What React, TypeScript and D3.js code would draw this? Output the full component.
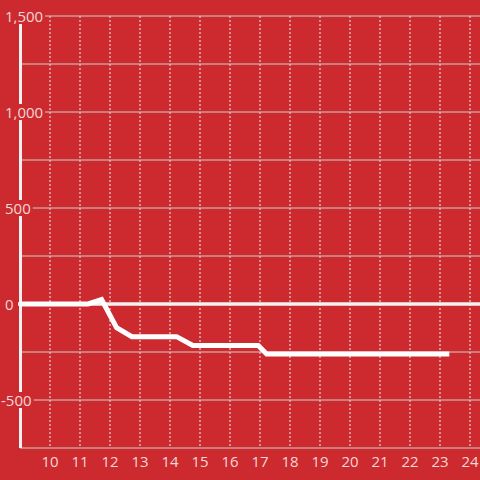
import React from "react";
import * as d3 from "d3";

const seriesX = [9.0, 11.27, 11.72, 12.22, 12.73, 14.22, 14.76, 16.94, 17.22, 23.31];
const seriesY = [0, 0, 23, -123, -170, -170, -216, -216, -260, -260];
const xTicks = [10, 11, 12, 13, 14, 15, 16, 17, 18, 19, 20, 21, 22, 23, 24];
const yGrid = [1500, 1250, 1000, 750, 500, 250, 0, -250, -500, -750];
const yLabels = [1500, 1000, 500, 0, -500];

const W = 480;
const H = 480;
const BG = "#cc2a2f";
const TXT = "#f4d6d6";
const FONT = "'Open Sans', sans-serif";
const FS = 15;

export default function App() {
  const x = d3.scaleLinear().domain([9, 24.333]).range([20, 480]);
  const y = d3.scaleLinear().domain([-750, 1500]).range([448, 16]);
  const fmt = d3.format(",");
  const line = d3
    .line<number>()
    .x((_, i) => x(seriesX[i]))
    .y((d) => y(d));

  const labelText = (v: number) => (v < 0 ? "-" + fmt(-v) : fmt(v));
  const labelW = (v: number) => {
    const s = labelText(v);
    let w = 0;
    for (const c of s) w += c === "," ? 3.75 : c === "-" ? 4.9 : 8.58;
    return w;
  };

  return (
    <svg width={W} height={H} style={{ position: "absolute", left: 0, top: 0, display: "block" }}>
      <rect x={0} y={0} width={W} height={H} fill={BG} />
      {/* vertical dotted grid */}
      {xTicks.map((t) => (
        <line key={"v" + t} x1={x(t)} x2={x(t)} y1={16} y2={448} stroke="#eeeeee" strokeWidth={1} strokeDasharray="2,2" />
      ))}
      {/* horizontal grid */}
      {yGrid.map((v) =>
        v === 0 ? null : (
          <line key={"h" + v} x1={20} x2={480} y1={y(v)} y2={y(v)} stroke="#cfcfcf" strokeWidth={1} />
        )
      )}
      {/* zero line */}
      <line x1={18} x2={480} y1={y(0)} y2={y(0)} stroke="#f2f2f2" strokeWidth={3.5} />
      {/* y axis */}
      <line x1={20.5} x2={20.5} y1={16} y2={448} stroke="#f0f0f0" strokeWidth={3} />
      {/* data line */}
      <path d={line(seriesY) || ""} fill="none" stroke="#ffffff" strokeWidth={5} strokeLinejoin="miter" />
      {/* y labels with background */}
      {yLabels.map((v) => {
        const lx = v < 0 ? 1 : 5;
        const w = labelW(v);
        return (
          <g key={"yl" + v}>
            <rect x={lx - 1} y={y(v) - 8} width={w + 3} height={16} fill={BG} />
            <text x={lx} y={y(v) + 5.5} fill={TXT} fontFamily={FONT} fontSize={FS}>
              {labelText(v)}
            </text>
          </g>
        );
      })}
      {/* x labels */}
      {xTicks.map((t) => (
        <text key={"xl" + t} x={x(t)} y={466.5} fill={TXT} fontFamily={FONT} fontSize={FS} textAnchor="middle">
          {t}
        </text>
      ))}
    </svg>
  );
}
